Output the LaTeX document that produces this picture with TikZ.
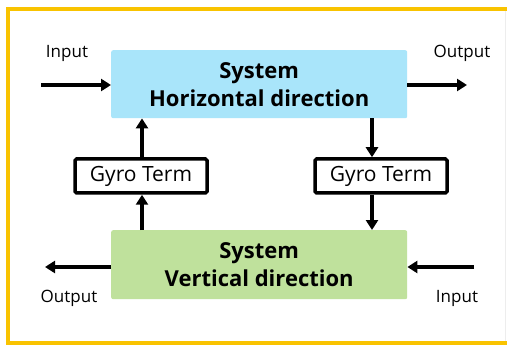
\documentclass[tikz,border=0pt]{standalone}
\usepackage{fontspec}
\setmainfont{Open Sans}
\usetikzlibrary{arrows.meta}
\definecolor{frameyellow}{HTML}{F9C300}
\definecolor{horizblue}{HTML}{A9E5FA}
\definecolor{vertgreen}{HTML}{BFE19C}
\begin{document}
\begin{tikzpicture}[x=1pt,y=-1pt,
  sysbox/.style={rounded corners=2pt,font=\fontsize{22}{28}\selectfont\bfseries,align=center,anchor=north west,inner sep=0pt},
  gyrobox/.style={draw=black,line width=3.5pt,rounded corners=1.5pt,fill=white,font=\fontsize{21}{24}\selectfont,minimum width=132pt,minimum height=34pt,inner sep=0pt},
  flow/.style={line width=4.5pt,-{Triangle[length=10pt,width=12pt]}},
  lbl/.style={font=\fontsize{17}{20}\selectfont},
  frameline/.style={draw=frameyellow,line width=3.5pt}]
\fill[white] (0,0) rectangle (507,345);
\useasboundingbox (0,0) rectangle (507,345);
% outer frame, open on the right
\fill[frameyellow] (6,7) rectangle (507,11);
\fill[frameyellow] (6,7) rectangle (10,345);
\fill[frameyellow] (6,341) rectangle (507,345);
% faint edge on the right
\fill[black!7] (504.5,11) rectangle (505.5,341);
% system blocks
\node[sysbox,fill=horizblue,minimum width=296pt,minimum height=68pt] (hor) at (111,50) {System\\Horizontal direction};
\node[sysbox,fill=vertgreen,minimum width=296pt,minimum height=69pt] (ver) at (111,230) {System\\Vertical direction};
% gyro coupling terms
\node[gyrobox] (gl) at (141,176) {Gyro Term};
\node[gyrobox] (gr) at (381,176) {Gyro Term};
% free ends of the input/output arrows
\coordinate (inH) at (41,85);
\coordinate (outH) at (467,85);
\coordinate (outV) at (45,267);
\coordinate (inV) at (474,267);
\draw[flow] (inH) -- (inH -| hor.west);
\draw[flow] (hor.east |- outH) -- (outH);
\draw[flow] (ver.west |- outV) -- (outV);
\draw[flow] (inV) -- (inV -| ver.east);
% coupling arrows
\draw[flow] (ver.north -| 142,0) -- (gl.south -| 142,0);
\draw[flow] (gl.north -| 142,0) -- (hor.south -| 142,0);
\draw[flow] (hor.south -| 372,0) -- (gr.north -| 372,0);
\draw[flow] (gr.south -| 372,0) -- (ver.north -| 372,0);
% labels
\node[lbl] (lin) at (67,53) {Input};
\node[lbl] (lout) at (462,53) {Output};
\node[lbl] (lout2) at (69,298) {Output};
\node[lbl] (lin2) at (457,298) {Input};
\end{tikzpicture}
\end{document}
